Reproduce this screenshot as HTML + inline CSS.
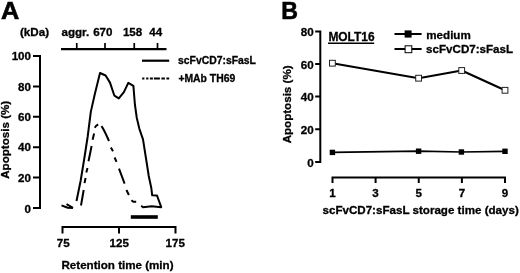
<!DOCTYPE html>
<html>
<head>
<meta charset="utf-8">
<title>Figure</title>
<style>
html,body{margin:0;padding:0;background:#fff;}
svg{display:block;}
text{font-family:"Liberation Sans",Arial,Helvetica,sans-serif;font-weight:bold;fill:#000;}
.t{font-size:11.6px;stroke:#000;stroke-width:0.3px;}
.s{font-size:10.4px;stroke:#000;stroke-width:0.3px;}
.p{font-size:24px;stroke:#000;stroke-width:0.6px;}
.ax{stroke:#000;stroke-width:2;fill:none;stroke-linecap:butt;}
.ln{stroke:#000;stroke-width:2;fill:none;stroke-linejoin:round;}
</style>
</head>
<body>
<svg width="520" height="273" viewBox="0 0 520 273">
<rect x="0" y="0" width="520" height="273" fill="#fff"/>

<!-- ================= Panel A ================= -->
<text class="p" transform="translate(1.1 19) scale(1.055 1)">A</text>
<text class="t" x="20" y="36.4">(kDa)</text>
<text class="t" x="61.5" y="36.4">aggr.</text>
<text class="t" x="102.8" y="36.4" text-anchor="middle">670</text>
<text class="t" x="132.6" y="36.4" text-anchor="middle">158</text>
<text class="t" x="155.7" y="36.4" text-anchor="middle">44</text>
<!-- top scale -->
<path class="ax" style="stroke-width:2.4" d="M61 49.1H166.5"/><path class="ax" style="stroke-width:1.7" d="M76.75 49V43M105 49V43M134.25 49V43M157.5 49V43"/>
<!-- y axis -->
<path class="ax" d="M40 55V209M33 56H40M33 86.4H40M33 116.8H40M33 147.2H40M33 177.6H40M33 208H40"/>
<text class="t" x="31" y="60.2" text-anchor="end">100</text>
<text class="t" x="31" y="90.6" text-anchor="end">80</text>
<text class="t" x="31" y="121" text-anchor="end">60</text>
<text class="t" x="31" y="151.4" text-anchor="end">40</text>
<text class="t" x="31" y="181.6" text-anchor="end">20</text>
<text class="t" x="31" y="213.4" text-anchor="end">0</text>
<text class="t" transform="translate(9 139.8) rotate(-90)" text-anchor="middle">Apoptosis (%)</text>
<!-- x axis -->
<path class="ax" d="M61.5 227H176.5M62.5 227V233.5M119 227V233.5M175.5 227V233.5"/>
<text class="t" x="63.2" y="247" text-anchor="middle">75</text>
<text class="t" x="119.2" y="247" text-anchor="middle">125</text>
<text class="t" x="175.2" y="247" text-anchor="middle">175</text>
<text class="t" x="117.5" y="269.2" text-anchor="middle">Retention time (min)</text>
<!-- legend -->
<path class="ln" style="stroke-width:2.2" d="M142 60.7H169.2"/>
<text class="s" x="178" y="64.2">scFvCD7:sFasL</text>
<path class="ln" style="stroke-width:2" d="M142.2 78.4H169.2" stroke-dasharray="2.2 1.8 2.2 1.5 3 1 6 1.5 3.5 1.5 3.3 20"/>
<text class="s" x="178.4" y="81.7">+MAb TH69</text>
<!-- solid curve -->
<path class="ln" d="M61.5 205.4L67.7 207.7L73 208M66.5 204.2L73 207.8"/>
<path class="ln" d="M76.5 201L80.6 181L84.3 158.5L87.7 136.5L90.8 111.9L94.6 95L100 73L105.6 75.5L110 82.6L114.4 95.7L118.8 98.4L123.9 92.1L128.3 82.9L133.4 85.9L134.9 104.5L136.8 118L139.3 128.6L143 139.3L146.25 160L148.75 176L151.3 188L152.2 195.3L157 195.5L161.2 207.2L151.7 206.3L143 207.2L141.2 205.8"/>
<!-- dashed curve -->
<path class="ln" d="M81 205.5L83.7 190M84.5 183.1L85.6 178M86.3 172.4L87.5 168M88.5 161.2L91.6 146M92.6 139.8L94.1 133.6M94.7 127.7Q96 125.3 98.2 124.5M101.5 126.1Q104 129.5 109 141M110.9 147.4L113 151.2M114.6 157.5L116.5 161.8M119 168.7L124.6 183.7M126.4 190L128.9 195M131.4 200.2L133.3 201.8L136.2 201.8"/>
<!-- bar -->
<rect x="130.8" y="215.2" width="27" height="3.6" fill="#000"/>

<!-- ================= Panel B ================= -->
<text class="p" transform="translate(281.2 19) scale(0.965 1)">B</text>
<path class="ax" d="M320.3 30.5V163M315.2 31.5H320.3M315.2 64H320.3M315.2 96.6H320.3M315.2 129.2H320.3M315.2 162H320.3"/>
<text class="t" x="313.7" y="36.2" text-anchor="end">80</text>
<text class="t" x="313.7" y="68.8" text-anchor="end">60</text>
<text class="t" x="313.7" y="101.4" text-anchor="end">40</text>
<text class="t" x="313.7" y="134" text-anchor="end">20</text>
<text class="t" x="313.7" y="167" text-anchor="end">0</text>
<text class="t" transform="translate(291.2 104.4) rotate(-90)" text-anchor="middle">Apoptosis (%)</text>
<text class="t" style="font-size:11.95px" x="328.4" y="40.9">MOLT16</text>
<path d="M328 43.3H374.2" stroke="#000" stroke-width="1.5"/>
<!-- x axis -->
<path class="ax" d="M331.5 177.5H506M332.5 177.5V182.9M375.6 177.5V182.9M418.75 177.5V182.9M461.9 177.5V182.9M505 177.5V182.9"/>
<text class="t" x="332.5" y="196.6" text-anchor="middle">1</text>
<text class="t" x="375.6" y="196.6" text-anchor="middle">3</text>
<text class="t" x="418.75" y="196.6" text-anchor="middle">5</text>
<text class="t" x="461.9" y="196.6" text-anchor="middle">7</text>
<text class="t" x="505" y="196.6" text-anchor="middle">9</text>
<text class="t" x="322.5" y="214">scFvCD7:sFasL storage time (days)</text>
<!-- series -->
<path class="ln" style="stroke-width:2.1" d="M332.4 63.2L418.6 78.2L461.7 70.5L505 90.3"/>
<g fill="#fff" stroke="#222" stroke-width="1">
<rect x="329.5" y="60.3" width="5.8" height="5.8"/>
<rect x="415.7" y="75.3" width="5.8" height="5.8"/>
<rect x="458.8" y="67.6" width="5.8" height="5.8"/>
<rect x="502.1" y="87.4" width="5.8" height="5.8"/>
</g>
<path class="ln" style="stroke-width:1.7" d="M332.4 152.4L418.6 151.2L461.4 152L505 151.3"/>
<g fill="#000">
<rect x="329.7" y="149.7" width="5.4" height="5.4"/>
<rect x="415.9" y="148.5" width="5.4" height="5.4"/>
<rect x="458.7" y="149.3" width="5.4" height="5.4"/>
<rect x="502.3" y="148.6" width="5.4" height="5.4"/>
</g>
<!-- legend -->
<path class="ln" d="M394.5 33.9H421.6M394.5 49H421.6"/>
<rect x="404.6" y="30.4" width="7" height="7.2" fill="#000"/>
<rect x="405.1" y="45.8" width="6.7" height="6.9" fill="#fff" stroke="#000" stroke-width="1"/>
<text class="t" x="426.3" y="38.5">medium</text>
<text class="t" x="426.1" y="53.3">scFvCD7:sFasL</text>
</svg>
</body>
</html>
